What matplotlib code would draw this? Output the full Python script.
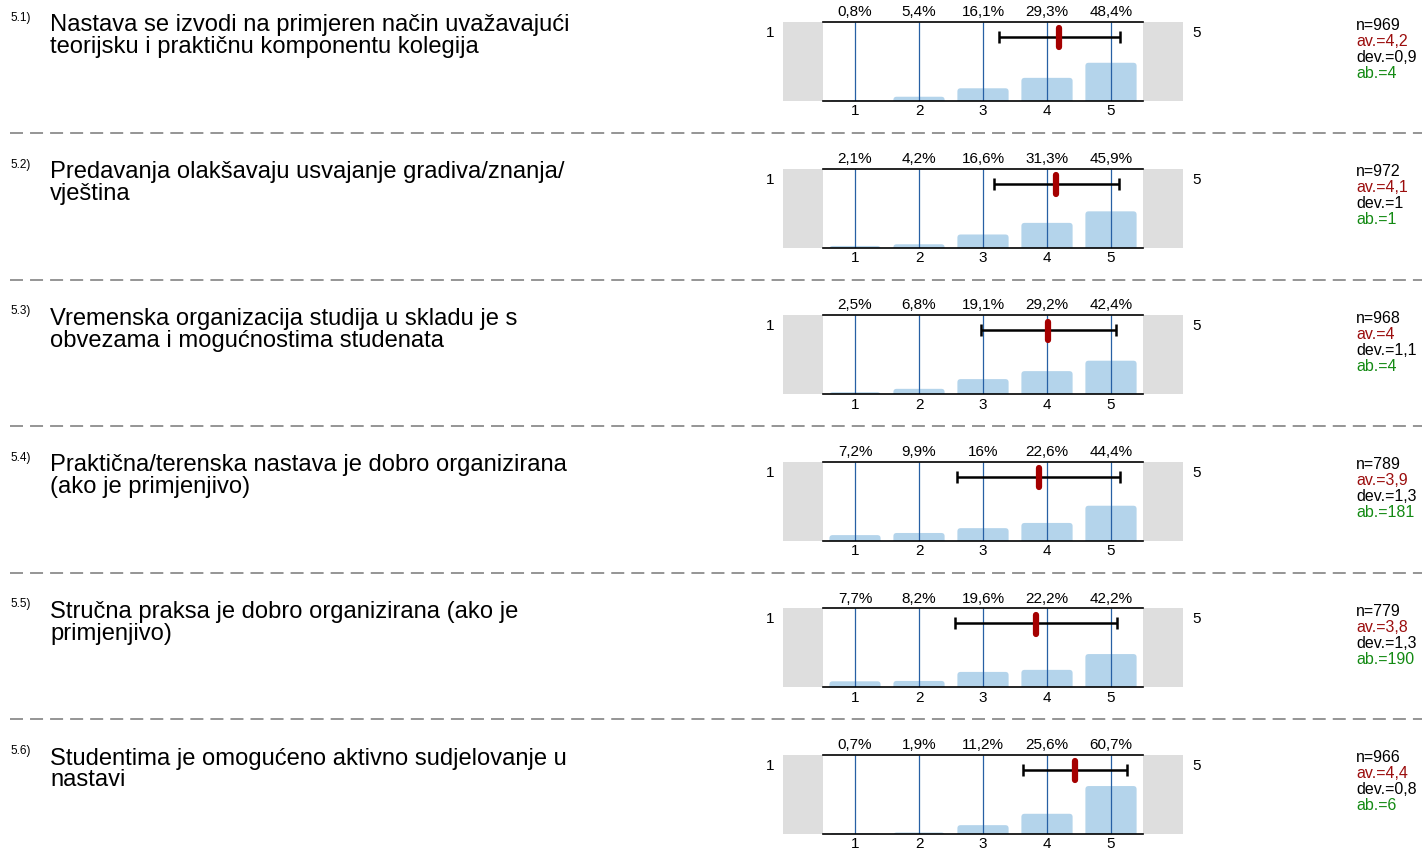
import numpy as np
import matplotlib
matplotlib.use("Agg")
import matplotlib.pyplot as plt
from matplotlib.patches import FancyBboxPatch

plt.rcParams['font.family'] = ['Liberation Sans', 'DejaVu Sans']

# survey data
numbers = ["5.1)", "5.2)", "5.3)", "5.4)", "5.5)", "5.6)"]
questions = [
    "Nastava se izvodi na primjeren način uvažavajući\nteorijsku i praktičnu komponentu kolegija",
    "Predavanja olakšavaju usvajanje gradiva/znanja/\nvještina",
    "Vremenska organizacija studija u skladu je s\nobvezama i mogućnostima studenata",
    "Praktična/terenska nastava je dobro organizirana\n(ako je primjenjivo)",
    "Stručna praksa je dobro organizirana (ako je\nprimjenjivo)",
    "Studentima je omogućeno aktivno sudjelovanje u\nnastavi",
]
scale = [1, 2, 3, 4, 5]
pct_1 = [0.8, 5.4, 16.1, 29.3, 48.4]
pct_2 = [2.1, 4.2, 16.6, 31.3, 45.9]
pct_3 = [2.5, 6.8, 19.1, 29.2, 42.4]
pct_4 = [7.2, 9.9, 16.0, 22.6, 44.4]
pct_5 = [7.7, 8.2, 19.6, 22.2, 42.2]
pct_6 = [0.7, 1.9, 11.2, 25.6, 60.7]
percents = [pct_1, pct_2, pct_3, pct_4, pct_5, pct_6]
n_vals = ["969", "972", "968", "789", "779", "966"]
av_vals = ["4,2", "4,1", "4", "3,9", "3,8", "4,4"]
dev_vals = ["0,9", "1", "1,1", "1,3", "1,3", "0,8"]
ab_vals = ["4", "1", "4", "181", "190", "6"]

W, H = 1422, 850
fig = plt.figure(figsize=(W / 100, H / 100), dpi=100)

BAR_C = "#b4d4eb"
LINE_C = "#2760a4"
row_h = 146.6


def fpos(px, py):
    return px / W, 1 - py / H


for i in range(6):
    off = i * row_h
    p = np.array(percents[i])
    x = np.array(scale)

    # left side: number + question
    fig.text(*fpos(10, 18 + off), numbers[i], fontsize=8.5, va="center", ha="left")
    fig.text(*fpos(50, 14.5 + off), questions[i], fontsize=17.1, va="top", ha="left",
             linespacing=1.0)

    # stats on the right
    stats = [("n=" + n_vals[i], "black"), ("av.=" + av_vals[i], "#9b0d0d"),
             ("dev.=" + dev_vals[i], "black"), ("ab.=" + ab_vals[i], "#138a13")]
    for k, (s, c) in enumerate(stats):
        fig.text(*fpos(1356, 25 + off + k * 16), s, fontsize=11.5, color=c,
                 va="center", ha="left")

    # chart axes: frame 823..1143 px, grey boxes out to 783 and 1183
    x0, y0 = fpos(783, 101 + off)
    ax = fig.add_axes([x0, y0, 400 / W, 79 / H])
    ax.set_xlim(-0.125, 6.125)
    ax.set_ylim(0, 100)
    for sp in ax.spines.values():
        sp.set_visible(False)
    ax.set_yticks([])
    ax.set_xticks(scale)
    ax.tick_params(axis="x", length=0, pad=2.5, labelsize=11)

    ax.axvspan(-0.125, 0.5, color="#dedede", lw=0)
    ax.axvspan(5.5, 6.125, color="#dedede", lw=0)

    # bars with rounded tops
    for xi, pi in zip(x, p):
        bar = FancyBboxPatch((xi - 0.4, -6), 0.8, pi + 6,
                             boxstyle="round,pad=0,rounding_size=0.05",
                             mutation_aspect=81, fc=BAR_C, ec="none", zorder=2)
        ax.add_patch(bar)

    ax.vlines(x, 0, 100, color=LINE_C, lw=0.9, zorder=3)
    ax.plot([0.5, 5.5], [100, 100], color="black", lw=1.2, zorder=4, clip_on=False)
    ax.plot([0.5, 5.5], [0, 0], color="black", lw=1.2, zorder=4, clip_on=False)

    for xi, pi in zip(x, p):
        lab = f"{pi:g}".replace(".", ",") + "%"
        ax.annotate(lab, (xi, 100), xytext=(0, 2), textcoords="offset points",
                    ha="center", va="bottom", fontsize=11)

    ax.text(-0.33, 86, "1", fontsize=11, ha="center", va="center")
    ax.text(6.33, 86, "5", fontsize=11, ha="center", va="center", clip_on=False)

    # mean +- std from distribution
    w = p / p.sum()
    mean = (w * x).sum()
    sd = np.sqrt((w * (x - mean) ** 2).sum())
    ax.errorbar(mean, 81, xerr=sd, color="black", lw=1.8, capsize=4.5,
                capthick=1.8, zorder=5)
    ax.plot([mean, mean], [68, 92], color="#a50000", lw=4.5,
            solid_capstyle="round", zorder=6)

    # dashed separator
    if i < 5:
        sy = fpos(0, 133 + off)[1]
        fig.add_artist(plt.Line2D([10 / W, 1], [sy, sy], color="#8c8c8c",
                                  lw=1.3, ls=(0, (7.2, 3.9))))

fig.savefig("out.png", dpi=100)
